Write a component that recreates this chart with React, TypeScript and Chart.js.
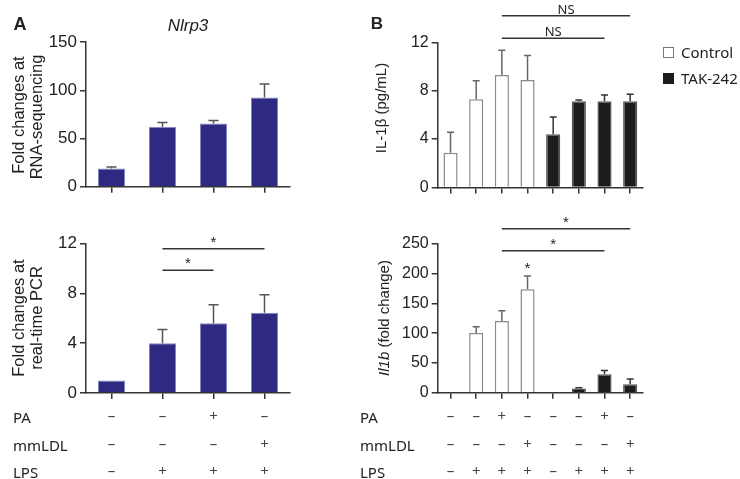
import React, { useEffect, useRef } from 'react';
import { Chart, registerables } from 'chart.js';

Chart.register(...registerables);

// ---------- data ----------
const conditionsA = ['Ctrl', 'LPS', 'PA+LPS', 'mmLDL+LPS'];
const paA = ['–', '–', '+', '–'];
const mmldlA = ['–', '–', '–', '+'];
const lpsA = ['–', '+', '+', '+'];
const rnaSeqFold = [19, 62, 65.7, 92.6];
const rnaSeqSd = [1.5, 4.7, 3.0, 14.0];
const rnaSeqTicks = [0, 50, 100, 150];
const pcrFold = [1, 4.0, 5.6, 6.45];
const pcrSd = [0, 1.1, 1.5, 1.45];
const pcrTicks = [0, 4, 8, 12];
const pcrBrackets = [
  { from: 1, to: 2, y: 9.86, label: '*' },
  { from: 1, to: 3, y: 11.6, label: '*' },
];

const conditionsB = ['C-1', 'C-2', 'C-3', 'C-4', 'T-1', 'T-2', 'T-3', 'T-4'];
const groupB = ['Control', 'Control', 'Control', 'Control', 'TAK-242', 'TAK-242', 'TAK-242', 'TAK-242'];
const paB = ['–', '–', '+', '–', '–', '–', '+', '–'];
const mmldlB = ['–', '–', '–', '+', '–', '–', '–', '+'];
const lpsB = ['–', '+', '+', '+', '–', '+', '+', '+'];
const il1bProtein = [2.87, 7.3, 9.3, 8.88, 4.4, 7.13, 7.13, 7.13];
const il1bProteinSd = [1.69, 1.53, 2.05, 2.02, 1.42, 0.1, 0.52, 0.58];
const proteinTicks = [0, 4, 8, 12];
const proteinBrackets = [
  { from: 2, to: 6, y: 12.34, label: 'NS' },
  { from: 2, to: 7, y: 14.2, label: 'NS' },
];
const il1bMrna = [1, 100, 120.3, 173.5, 0.5, 7, 30.9, 14];
const il1bMrnaSd = [0, 10.5, 17.3, 22.3, 0, 1.5, 6.5, 9];
const mrnaTicks = [0, 50, 100, 150, 200, 250];
const mrnaBrackets = [
  { from: 2, to: 6, y: 238, label: '*' },
  { from: 2, to: 7, y: 275, label: '*' },
];
const mrnaStars = [{ index: 3, y: 201 }];

// ---------- styles ----------
const AXIS = '#333333';
const SANS = '"Liberation Sans", Arial, sans-serif';
const TABLE_FONT = '"Noto Sans", "Open Sans", sans-serif';
const A_FILL = '#2e2a82';
const A_EDGE = '#8785c4';

type Bracket = { from: number; to: number; y: number; label: string };
type Spec = {
  labels: string[];
  values: number[];
  sd: number[];
  fill: string[];
  border: string[];
  borderWidth: number;
  errColor: string[];
  yTicks: number[];
  width: number;
  height: number;
  area: { left: number; top: number; right: number; bottom: number };
  tickFont: number;
  barPct: number;
  capHalf: number;
  brackets?: Bracket[];
  bracketFont?: string;
  stars?: { index: number; y: number }[];
  signs?: string[][];
};

const SIGN_ROWS = [24, 51.7, 79];

function overlayPlugin(spec: Spec) {
  return {
    id: 'overlay',
    afterDatasetsDraw(chart: any) {
      const ctx = chart.ctx;
      const ys = chart.scales.y;
      const meta = chart.getDatasetMeta(0);
      ctx.save();
      ctx.lineWidth = 1.5;
      spec.values.forEach((v, i) => {
        const s = spec.sd[i];
        if (!s) return;
        const x = meta.data[i].x;
        const y0 = ys.getPixelForValue(v);
        const y1 = ys.getPixelForValue(v + s);
        ctx.strokeStyle = spec.errColor[i];
        ctx.beginPath();
        ctx.moveTo(x, y0);
        ctx.lineTo(x, y1);
        ctx.moveTo(x - spec.capHalf, y1);
        ctx.lineTo(x + spec.capHalf, y1);
        ctx.stroke();
      });
      ctx.restore();
    },
    afterDraw(chart: any) {
      const ctx = chart.ctx;
      const xs = chart.scales.x;
      const ys = chart.scales.y;
      ctx.save();
      ctx.strokeStyle = AXIS;
      ctx.fillStyle = '#222';
      ctx.lineWidth = 1.5;
      ctx.textAlign = 'center';
      ctx.textBaseline = 'alphabetic';
      (spec.brackets || []).forEach((b) => {
        const x0 = xs.getPixelForValue(b.from);
        const x1 = xs.getPixelForValue(b.to);
        const y = ys.getPixelForValue(b.y);
        ctx.beginPath();
        ctx.moveTo(x0, y);
        ctx.lineTo(x1, y);
        ctx.stroke();
        ctx.font = b.label === '*' ? `15px ${SANS}` : spec.bracketFont || `13px ${TABLE_FONT}`;
        ctx.fillText(b.label, (x0 + x1) / 2, y - 2);
      });
      (spec.stars || []).forEach((s) => {
        ctx.font = `15px ${SANS}`;
        ctx.fillText('*', xs.getPixelForValue(s.index), ys.getPixelForValue(s.y));
      });
      if (spec.signs) {
        ctx.font = `15px ${TABLE_FONT}`;
        ctx.fillStyle = '#444';
        ctx.textBaseline = 'middle';
        spec.signs.forEach((row, r) => {
          row.forEach((sg, i) => {
            ctx.fillText(sg, xs.getPixelForValue(i), chart.chartArea.bottom + SIGN_ROWS[r]);
          });
        });
      }
      ctx.restore();
    },
  };
}

function BarPanel({ spec, left, top }: { spec: Spec; left: number; top: number }) {
  const ref = useRef<HTMLCanvasElement>(null);
  useEffect(() => {
    if (!ref.current) return;
    const { area, width, height, yTicks } = spec;
    const chart = new Chart(ref.current, {
      type: 'bar',
      data: {
        labels: spec.labels,
        datasets: [
          {
            data: spec.values,
            backgroundColor: spec.fill,
            borderColor: spec.border,
            borderWidth: spec.borderWidth,
            barPercentage: spec.barPct,
            categoryPercentage: 1,
          },
        ],
      },
      options: {
        responsive: false,
        animation: false,
        devicePixelRatio: 1,
        layout: {
          padding: { left: 0, top: area.top, right: width - area.right, bottom: height - area.bottom - 8 },
        },
        plugins: { legend: { display: false }, tooltip: { enabled: false } },
        scales: {
          x: {
            type: 'category',
            offset: true,
            grid: { display: true, drawOnChartArea: false, drawTicks: true, tickLength: 6, offset: false, color: AXIS, lineWidth: 1.5 },
            border: { display: true, color: AXIS, width: 1.5 },
            ticks: { display: false },
            afterFit: (s: any) => {
              s.height = 8;
            },
          },
          y: {
            type: 'linear',
            min: yTicks[0],
            max: yTicks[yTicks.length - 1],
            afterBuildTicks: (s: any) => {
              s.ticks = yTicks.map((v) => ({ value: v }));
            },
            grid: { display: true, drawOnChartArea: false, drawTicks: true, tickLength: 6, color: AXIS, lineWidth: 1.5 },
            border: { display: true, color: AXIS, width: 1.5 },
            ticks: { font: { family: SANS, size: spec.tickFont }, color: '#222', padding: 3 },
            afterFit: (s: any) => {
              s.width = area.left;
            },
          },
        },
      } as any,
      plugins: [overlayPlugin(spec) as any],
    });
    return () => chart.destroy();
  }, [spec]);
  return (
    <canvas
      ref={ref}
      width={spec.width}
      height={spec.height}
      style={{ position: 'absolute', left, top, width: spec.width, height: spec.height }}
    />
  );
}

function Txt({
  x, y, children, size = 16, weight = 400, italic = false, rotate = false, family = SANS, align = 'center', color = '#222',
}: any) {
  const tx = align === 'center' ? '-50%' : '0';
  return (
    <div
      style={{
        position: 'absolute',
        left: x,
        top: y,
        transform: `translate(${tx}, -50%)${rotate ? ' rotate(-90deg)' : ''}`,
        transformOrigin: align === 'center' ? 'center' : 'left center',
        fontFamily: family,
        fontSize: size,
        fontWeight: weight,
        fontStyle: italic ? 'italic' : 'normal',
        lineHeight: 1,
        whiteSpace: 'nowrap',
        color,
      }}
    >
      {children}
    </div>
  );
}

const specA1: Spec = {
  labels: conditionsA,
  values: rnaSeqFold,
  sd: rnaSeqSd,
  fill: conditionsA.map(() => A_FILL),
  border: conditionsA.map(() => A_EDGE),
  borderWidth: 1,
  errColor: conditionsA.map(() => '#555'),
  yTicks: rnaSeqTicks,
  width: 300,
  height: 200,
  area: { left: 86, top: 42, right: 290, bottom: 191 },
  tickFont: 17,
  barPct: 0.53,
  capHalf: 5,
};

const specA2: Spec = {
  ...specA1,
  values: pcrFold,
  sd: pcrSd,
  yTicks: pcrTicks,
  height: 279,
  area: { left: 86, top: 43.7, right: 290, bottom: 193 },
  brackets: pcrBrackets,
  signs: [paA, mmldlA, lpsA],
};

const isCtrl = (g: string) => g === 'Control';
const specB1: Spec = {
  labels: conditionsB,
  values: il1bProtein,
  sd: il1bProteinSd,
  fill: groupB.map((g) => (isCtrl(g) ? '#ffffff' : '#1c1c1c')),
  border: groupB.map((g) => (isCtrl(g) ? '#8a8a8a' : '#555555')),
  borderWidth: 1.5,
  errColor: groupB.map((g) => (isCtrl(g) ? '#666' : '#333')),
  yTicks: proteinTicks,
  width: 400,
  height: 200,
  area: { left: 97.7, top: 42.3, right: 303, bottom: 191.3 },
  tickFont: 16,
  barPct: 0.55,
  capHalf: 3.5,
  brackets: proteinBrackets,
};

const specB2: Spec = {
  ...specB1,
  values: il1bMrna,
  sd: il1bMrnaSd,
  yTicks: mrnaTicks,
  height: 279,
  area: { left: 97.7, top: 43.7, right: 303, bottom: 192.7 },
  brackets: mrnaBrackets,
  stars: mrnaStars,
  signs: [paB, mmldlB, lpsB],
};

const rowNames = ['PA', 'mmLDL', 'LPS'];
const rowY = [417, 444.7, 472];

export default function App() {
  return (
    <div style={{ position: 'fixed', left: 0, top: 0, width: 740, height: 479, background: '#fff', overflow: 'hidden' }}>
      <BarPanel spec={specA1} left={0} top={0} />
      <BarPanel spec={specA2} left={0} top={200} />
      <BarPanel spec={specB1} left={340} top={0} />
      <BarPanel spec={specB2} left={340} top={200} />

      <Txt x={20} y={24} size={18} weight={700}>A</Txt>
      <Txt x={188} y={25} size={17} italic>Nlrp3</Txt>
      <Txt x={377} y={23} size={17} weight={700}>B</Txt>

      <Txt x={18} y={115} size={16.5} rotate>Fold changes at</Txt>
      <Txt x={36} y={117} size={16.5} rotate>RNA-sequencing</Txt>
      <Txt x={18} y={318} size={16.5} rotate>Fold changes at</Txt>
      <Txt x={36} y={318} size={16.5} rotate>real-time PCR</Txt>
      <Txt x={380} y={108} size={15} rotate>IL-1β (pg/mL)</Txt>
      <Txt x={383} y={318} size={15} rotate>
        <i>Il1b</i> (fold change)
      </Txt>

      {rowNames.map((n, i) => (
        <React.Fragment key={n}>
          <Txt x={13} y={rowY[i]} size={15} family={TABLE_FONT} align="left">{n}</Txt>
          <Txt x={360} y={rowY[i]} size={15} family={TABLE_FONT} align="left">{n}</Txt>
        </React.Fragment>
      ))}

      <div style={{ position: 'absolute', left: 663, top: 46.5, width: 9, height: 9, border: '1px solid #777', background: '#fff' }} />
      <Txt x={681} y={51.7} size={15} family={TABLE_FONT} align="left">Control</Txt>
      <div style={{ position: 'absolute', left: 663, top: 73, width: 11, height: 11, background: '#1c1c1c' }} />
      <Txt x={681} y={78.3} size={15} family={TABLE_FONT} align="left">TAK-242</Txt>
    </div>
  );
}
